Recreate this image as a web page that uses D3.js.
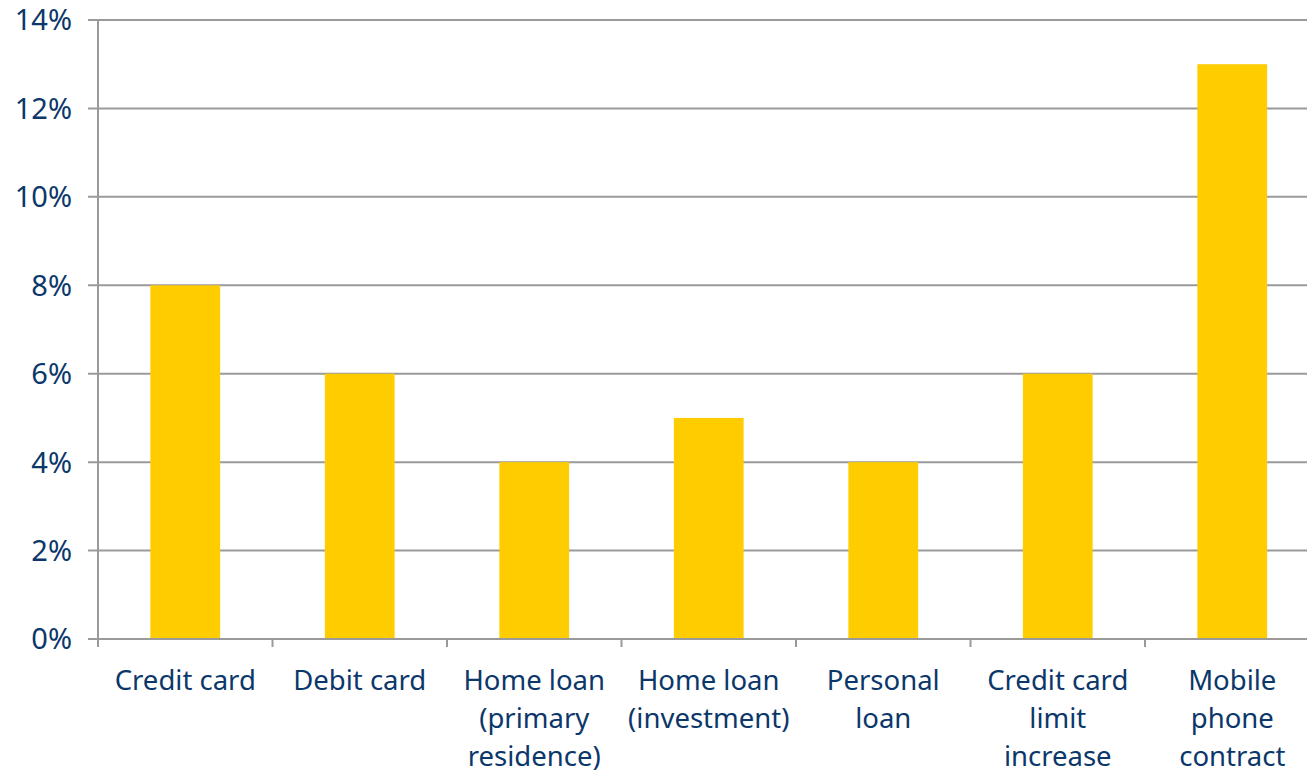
<!DOCTYPE html>
<html>
<head>
<meta charset="utf-8">
<script src="https://cdn.jsdelivr.net/npm/d3@7"></script>
<style>
  html, body { margin: 0; padding: 0; background: #fff; }
  svg { display: block; }
  text { font-family: "Noto Sans", "Open Sans", sans-serif; fill: #0b376a; }
</style>
</head>
<body>
<svg id="chart" width="1307" height="773"></svg>
<script>
// Share of applications by product type
const categories = [
  ["Credit card"],
  ["Debit card"],
  ["Home loan", "(primary", "residence)"],
  ["Home loan", "(investment)"],
  ["Personal", "loan"],
  ["Credit card", "limit", "increase"],
  ["Mobile", "phone", "contract"]
];
const values = [8, 6, 4, 5, 4, 6, 13];
const yTicks = [0, 2, 4, 6, 8, 10, 12, 14];

const svg = d3.select("#chart");
const plotLeft = 98, plotTop = 20, plotBottom = 639;
const step = 174.5;
const plotRight = plotLeft + step * categories.length;

const x = d3.scaleBand()
  .domain(d3.range(categories.length))
  .range([plotLeft, plotRight])
  .paddingInner(0.6)
  .paddingOuter(0.3);

const y = d3.scaleLinear().domain([0, 14]).range([plotBottom, plotTop]);

// horizontal gridlines with left tick marks
svg.append("g")
  .selectAll("line")
  .data(yTicks)
  .join("line")
  .attr("x1", plotLeft - 10)
  .attr("x2", 1307)
  .attr("y1", d => y(d))
  .attr("y2", d => y(d))
  .attr("stroke", "#9a9a9a")
  .attr("stroke-width", 2);

// y tick labels
svg.append("g")
  .selectAll("text")
  .data(yTicks)
  .join("text")
  .attr("x", 72)
  .attr("y", d => y(d))
  .attr("dy", "0.36em")
  .attr("text-anchor", "end")
  .attr("font-size", 29)
  .text(d => d + "%");

// bars
svg.append("g")
  .selectAll("rect")
  .data(values)
  .join("rect")
  .attr("x", (d, i) => x(i))
  .attr("width", x.bandwidth())
  .attr("y", d => y(d))
  .attr("height", d => y(0) - y(d))
  .attr("fill", "#ffcc00");

// y axis line
svg.append("line")
  .attr("x1", plotLeft).attr("x2", plotLeft)
  .attr("y1", plotTop).attr("y2", plotBottom + 8)
  .attr("stroke", "#9a9a9a")
  .attr("stroke-width", 2);

// x axis baseline and category separators
svg.append("line")
  .attr("x1", plotLeft - 10).attr("x2", 1307)
  .attr("y1", plotBottom).attr("y2", plotBottom)
  .attr("stroke", "#9a9a9a")
  .attr("stroke-width", 2);

svg.append("g")
  .selectAll("line")
  .data(d3.range(1, categories.length + 1))
  .join("line")
  .attr("x1", i => plotLeft + step * i)
  .attr("x2", i => plotLeft + step * i)
  .attr("y1", plotBottom)
  .attr("y2", plotBottom + 8)
  .attr("stroke", "#9a9a9a")
  .attr("stroke-width", 2);

// category labels, wrapped onto up to three lines
const labels = svg.append("g")
  .selectAll("text")
  .data(categories)
  .join("text")
  .attr("text-anchor", "middle")
  .attr("font-size", 27.5)
  .attr("transform", (d, i) => `translate(${x(i) + x.bandwidth() / 2},${690})`);

labels.selectAll("tspan")
  .data(d => d)
  .join("tspan")
  .attr("x", 0)
  .attr("y", (d, j) => j * 38)
  .text(d => d);
</script>
</body>
</html>
